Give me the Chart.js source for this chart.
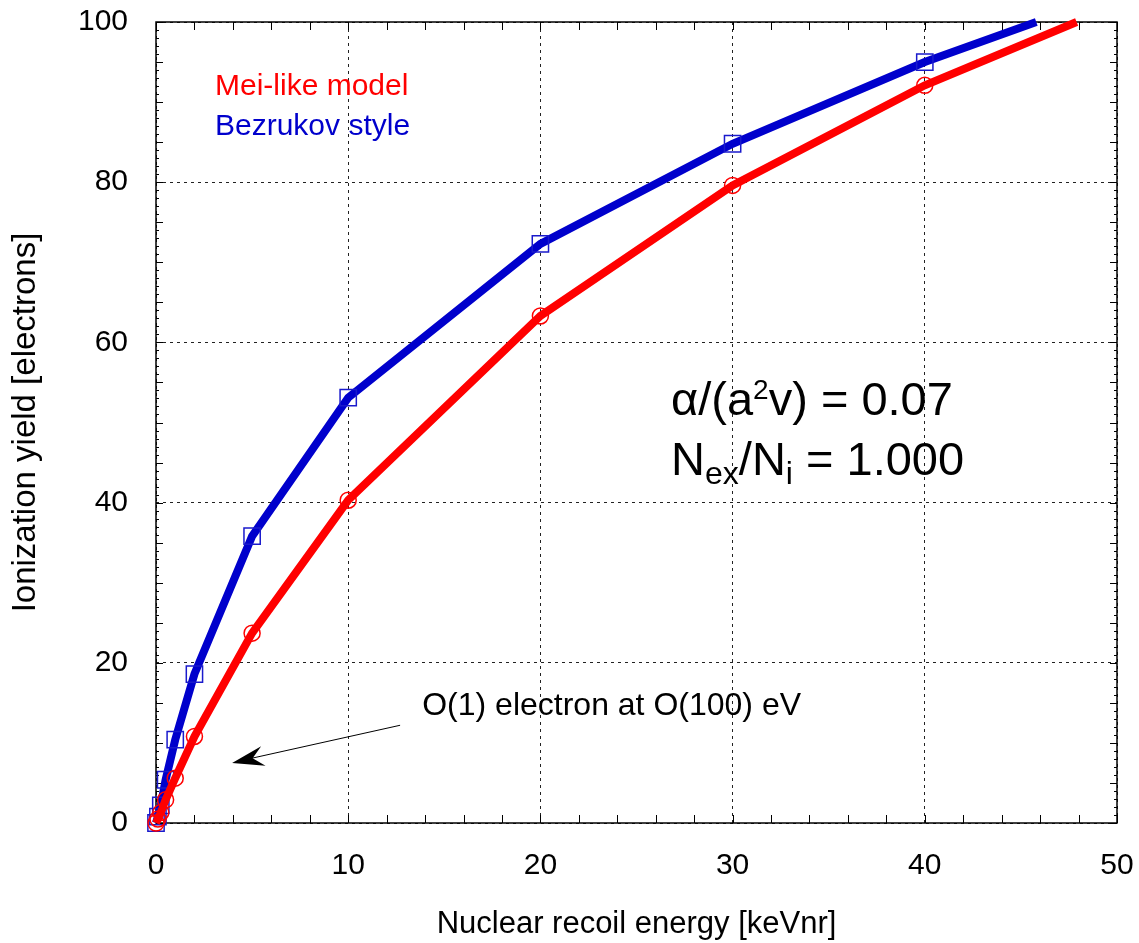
<!DOCTYPE html>
<html><head><meta charset="utf-8">
<script src="https://cdn.jsdelivr.net/npm/chart.js@4.4.0/dist/chart.umd.min.js"></script>
<style>html,body{margin:0;padding:0;background:#fff;}#wrap{width:1139px;height:943px;}</style>
</head><body><div id="wrap"><canvas id="c" width="1139" height="943"></canvas></div>
<script>
// ---- data ----
const energyMei = [0, 0.1, 0.25, 0.5, 1, 2, 5, 10, 20, 30, 40, 47.9];
const yieldMei  = [0, 0.5, 1.3, 2.9, 5.6, 10.8, 23.7, 40.3, 63.3, 79.6, 92.1, 100];
const energyBez = [0, 0.1, 0.25, 0.5, 1, 2, 5, 10, 20, 30, 40, 45.8];
const yieldBez  = [0, 0.8, 2.2, 5.4, 10.4, 18.6, 35.8, 53.1, 72.3, 84.8, 95.0, 100];
const seriesNames = ['Mei-like model', 'Bezrukov style'];
const xTickLabels = [0, 10, 20, 30, 40, 50];
const yTickLabels = [0, 20, 40, 60, 80, 100];
const xTitle = 'Nuclear recoil energy [keVnr]';
const yTitle = 'Ionization yield [electrons]';
const arrowNote = 'O(1) electron at O(100) eV';

const FONT = '"Liberation Sans", Arial, Helvetica, sans-serif';
const RED = '#ff0000', BLUE = '#0000cc';

function pts(xs, ys){ return xs.map((x,i)=>({x:x, y:ys[i]})); }
function radii(n, r){ return Array.from({length:n}, (_,i)=> i===n-1 ? 0 : r); }

const deco = {
  id: 'deco',
  beforeDatasetsDraw(chart){
    const {ctx, chartArea:a, scales:{x, y}} = chart;
    ctx.save();
    ctx.strokeStyle = '#000'; ctx.lineWidth = 1;
    ctx.beginPath();
    for (let v = 0; v <= 50; v += 2){
      const px = Math.round(x.getPixelForValue(v)) + 0.5;
      ctx.moveTo(px, a.bottom); ctx.lineTo(px, a.bottom - 8);
      ctx.moveTo(px, a.top); ctx.lineTo(px, a.top + 8);
    }
    for (let v = 0; v <= 100; v += 1){
      const py = Math.round(y.getPixelForValue(v)) + 0.5;
      const len = v % 5 === 0 ? 7 : 3;
      ctx.moveTo(a.left, py); ctx.lineTo(a.left + len, py);
      ctx.moveTo(a.right, py); ctx.lineTo(a.right - len, py);
    }
    ctx.stroke();
    ctx.lineWidth = 1.5;
    ctx.strokeRect(a.left, a.top, a.right - a.left, a.bottom - a.top);
    ctx.restore();
  },
  afterDatasetsDraw(chart){
    const {ctx, scales:{x, y}} = chart;
    const X = v => x.getPixelForValue(v), Y = v => y.getPixelForValue(v);
    ctx.save();
    ctx.textBaseline = 'alphabetic'; ctx.textAlign = 'left';
    // legend texts
    ctx.font = '30px ' + FONT;
    ctx.fillStyle = RED;  ctx.fillText(seriesNames[0], X(3.07), Y(90.9));
    ctx.fillStyle = BLUE; ctx.fillText(seriesNames[1], X(3.07), Y(85.9));
    // big annotation
    ctx.fillStyle = '#000';
    const parts = (segs, x0, y0) => {
      let cx = x0;
      segs.forEach(s => {
        ctx.font = s[1] + 'px ' + FONT;
        ctx.fillText(s[0], cx, y0 + s[2]);
        cx += ctx.measureText(s[0]).width;
      });
    };
    parts([['\u03b1/(a',47,0],['2',28,-16],['v) = 0.07',47,0]], X(26.8), Y(50.9));
    parts([['N',47,0],['ex',32,9],['/N',47,0],['i',32,9],[' = 1.000',47,0]], X(26.8), Y(43.4));
    // arrow note
    ctx.font = '32px ' + FONT;
    ctx.fillText(arrowNote, X(13.85), Y(13.5));
    const sx = X(12.7), sy = Y(12.2), tx = X(3.96), ty = Y(7.5);
    ctx.strokeStyle = '#000'; ctx.lineWidth = 1;
    ctx.beginPath(); ctx.moveTo(sx, sy); ctx.lineTo(tx + 12, ty - 3); ctx.stroke();
    const ang = Math.atan2(ty - sy, tx - sx);
    const L = 32, W = 10, N = 21;
    const bx = tx - L*Math.cos(ang), by = ty - L*Math.sin(ang);
    const nx = tx - N*Math.cos(ang), ny = ty - N*Math.sin(ang);
    const px = -Math.sin(ang), py = Math.cos(ang);
    ctx.fillStyle = '#000';
    ctx.beginPath();
    ctx.moveTo(tx, ty);
    ctx.lineTo(bx + W*px, by + W*py);
    ctx.lineTo(nx, ny);
    ctx.lineTo(bx - W*px, by - W*py);
    ctx.closePath(); ctx.fill();
    ctx.restore();
  }
};

new Chart(document.getElementById('c'), {
  type: 'scatter',
  data: {
    datasets: [
      { label: seriesNames[0], data: pts(energyMei, yieldMei), showLine: true,
        borderColor: RED, backgroundColor: 'rgba(0,0,0,0)', borderWidth: 8,
        pointStyle: 'circle', pointRadius: radii(energyMei.length, 8),
        pointBorderColor: RED, pointBackgroundColor: 'rgba(0,0,0,0)', pointBorderWidth: 1.5,
        tension: 0, clip: false },
      { label: seriesNames[1], data: pts(energyBez, yieldBez), showLine: true,
        borderColor: BLUE, backgroundColor: 'rgba(0,0,0,0)', borderWidth: 8,
        pointStyle: 'rect', pointRadius: radii(energyBez.length, 11.5),
        pointBorderColor: '#1a1acc', pointBackgroundColor: 'rgba(0,0,0,0)', pointBorderWidth: 1.5,
        tension: 0, clip: false }
    ]
  },
  options: {
    responsive: false, animation: false, devicePixelRatio: 1,
    layout: { padding: { left: 0, right: 22, top: 22, bottom: 0 } },
    plugins: { legend: { display: false }, tooltip: { enabled: false } },
    scales: {
      x: {
        type: 'linear', min: 0, max: 50,
        afterBuildTicks: s => { s.ticks = xTickLabels.map(v => ({value: v})); },
        afterFit: s => { s.height = 120; s.paddingLeft = 0; s.paddingRight = 0; },
        grid: { color: '#222', lineWidth: 1, drawTicks: false },
        border: { display: false, dash: [3, 4] },
        ticks: { color: '#000', font: { family: FONT, size: 30 }, padding: 25, maxRotation: 0 },
        title: { display: true, text: xTitle, color: '#000', font: { family: FONT, size: 31 }, padding: { top: 0, bottom: 0 } }
      },
      y: {
        type: 'linear', min: 0, max: 100,
        afterBuildTicks: s => { s.ticks = yTickLabels.map(v => ({value: v})); },
        afterFit: s => { s.width = 156; s.paddingTop = 0; s.paddingBottom = 0; },
        grid: { color: '#222', lineWidth: 1, drawTicks: false },
        border: { display: false, dash: [3, 4] },
        ticks: { color: '#000', font: { family: FONT, size: 30 }, padding: 28 },
        title: { display: true, text: yTitle, color: '#000', font: { family: FONT, size: 33 }, padding: { top: 6, bottom: 0 } }
      }
    }
  },
  plugins: [deco]
});
</script></body></html>
